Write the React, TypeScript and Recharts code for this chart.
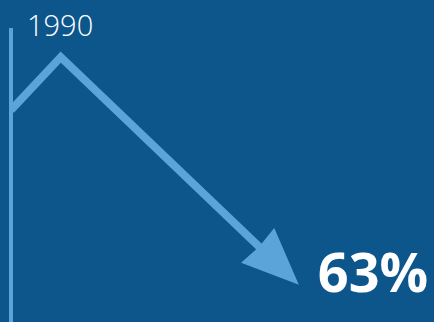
import { LineChart, Line, XAxis, YAxis, LabelList } from 'recharts'

const YEARS = [1990, 1992, 2000]
const VALUES = [100, 120, 48]
const FIRST_LABEL = '1990'
const CALLOUT = '63%'

const BG = '#0c568c'
const LINE_COLOR = '#5aa4da'

const data = YEARS.map((year, i) => ({ year, value: VALUES[i] }))

// arrow head drawn on the last point, pointing along the final segment
function ArrowDot(props: any) {
  const { cx, cy, index, points } = props
  if (index !== data.length - 1 || cx == null) return <g key={`d-${index}`} />
  let dx = 0.723
  let dy = 0.69
  if (points && points[index - 1]) {
    const p = points[index - 1]
    const len = Math.hypot(cx - p.x, cy - p.y)
    dx = (cx - p.x) / len
    dy = (cy - p.y) / len
  }
  const nx = dy
  const ny = -dx
  const pt = (a: number, b: number) => `${cx + a * dx + b * nx},${cy + a * dy + b * ny}`
  const poly = [pt(54, 0), pt(-3, 24), pt(-1, 0), pt(-3, -24)].join(' ')
  return <polygon key={`d-${index}`} points={poly} fill={LINE_COLOR} />
}

function YearTick({ x, y, payload }: any) {
  return (
    <text x={x + 16} y={y + 8} fill="#ffffff" fontSize={29} fontWeight={300} fontFamily="'Open Sans', sans-serif" textAnchor="start">
      {payload.value === YEARS[0] ? FIRST_LABEL : payload.value}
    </text>
  )
}

function Callout(props: any) {
  const { x, y, index } = props
  if (index !== data.length - 1) return null
  return (
    <text x={x + 58} y={y + 44.5} fill="#ffffff" fontSize={54} fontWeight={700} fontFamily="'Open Sans', sans-serif" textAnchor="start">
      {CALLOUT}
    </text>
  )
}

export default function App() {
  return (
    <div style={{ position: 'fixed', top: 0, left: 0, width: 434, height: 322, overflow: 'hidden', background: BG }}>
      <LineChart width={434} height={340} data={data} margin={{ top: 0, right: 0, bottom: 0, left: 0 }}>
        <XAxis
          dataKey="year"
          type="number"
          orientation="top"
          domain={[1990, 2007]}
          ticks={[YEARS[0]]}
          interval={0}
          allowDataOverflow
          height={28}
          axisLine={false}
          tickLine={false}
          tickSize={0}
          tickMargin={0}
          tick={YearTick}
        />
        <YAxis
          type="number"
          domain={[13, 131]}
          allowDataOverflow
          width={11}
          tick={false}
          tickLine={false}
          axisLine={{ stroke: LINE_COLOR, strokeWidth: 4 }}
        />
        <Line
          type="linear"
          dataKey="value"
          stroke={LINE_COLOR}
          strokeWidth={8}
          strokeLinejoin="miter"
          strokeLinecap="butt"
          dot={ArrowDot}
          activeDot={false}
          isAnimationActive={false}
        >
          <LabelList dataKey="value" content={Callout} />
        </Line>
      </LineChart>
    </div>
  )
}
